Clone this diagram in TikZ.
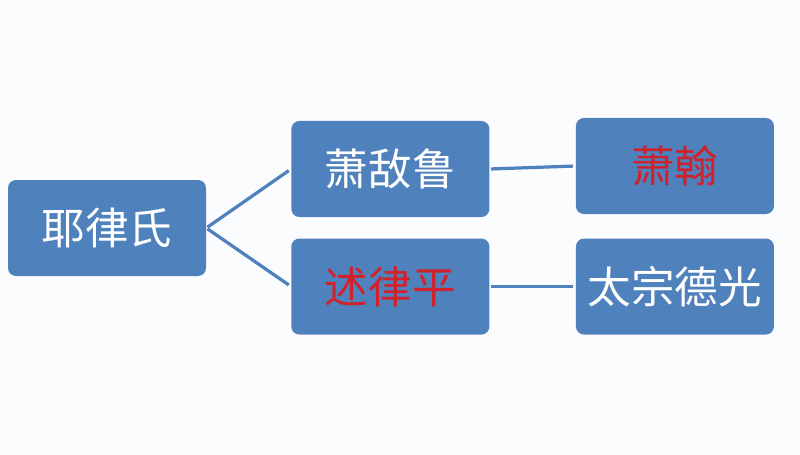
\documentclass[tikz,border=0pt]{standalone}
\usepackage{fontspec}
\newfontfamily\cjk{Noto Sans CJK SC}
\usetikzlibrary{positioning}
\definecolor{boxblue}{HTML}{4F81BD}
\definecolor{namered}{HTML}{D0222C}
\tikzstyle{family box}=[rectangle,rounded corners=0.2cm,fill=boxblue,
  minimum width=4.95cm,minimum height=2.4cm,inner sep=0pt,
  font=\cjk\fontsize{31}{31}\selectfont,text=white]
\tikzstyle{family edge}=[draw=boxblue,line width=2.3pt,shorten <=1pt,shorten >=2pt]
\newcommand{\familynode}[3][]{
  \node [family box, #1] (#2) {#3}
}

\begin{document}
\begin{tikzpicture}
        \fill[white!98!boxblue] (0,0) rectangle (20,-11.375);
        \useasboundingbox (0,0) rectangle (20,-11.375);
        \familynode[at={(2.675,-5.7)}]{yelv}{耶律氏};
        \familynode[right=2.12cm of yelv, yshift=1.475cm]{xiaodilu}{萧敌鲁};
        \familynode[below=0.525cm of xiaodilu, text=namered]{shulvping}{述律平};
        \familynode[right=2.15cm of xiaodilu, yshift=0.075cm, text=namered]{xiaohan}{萧翰};
        \familynode[right=2.15cm of shulvping]{deguang}{太宗德光};

      \draw[family edge] (yelv.east) -- (xiaodilu.west);
            \draw[family edge] (yelv.east) -- (shulvping.west);
      \draw[family edge] (xiaodilu.east) -- (xiaohan.west);
            \draw[family edge] (shulvping.east) -- (deguang.west);

      \end{tikzpicture}
\end{document}
